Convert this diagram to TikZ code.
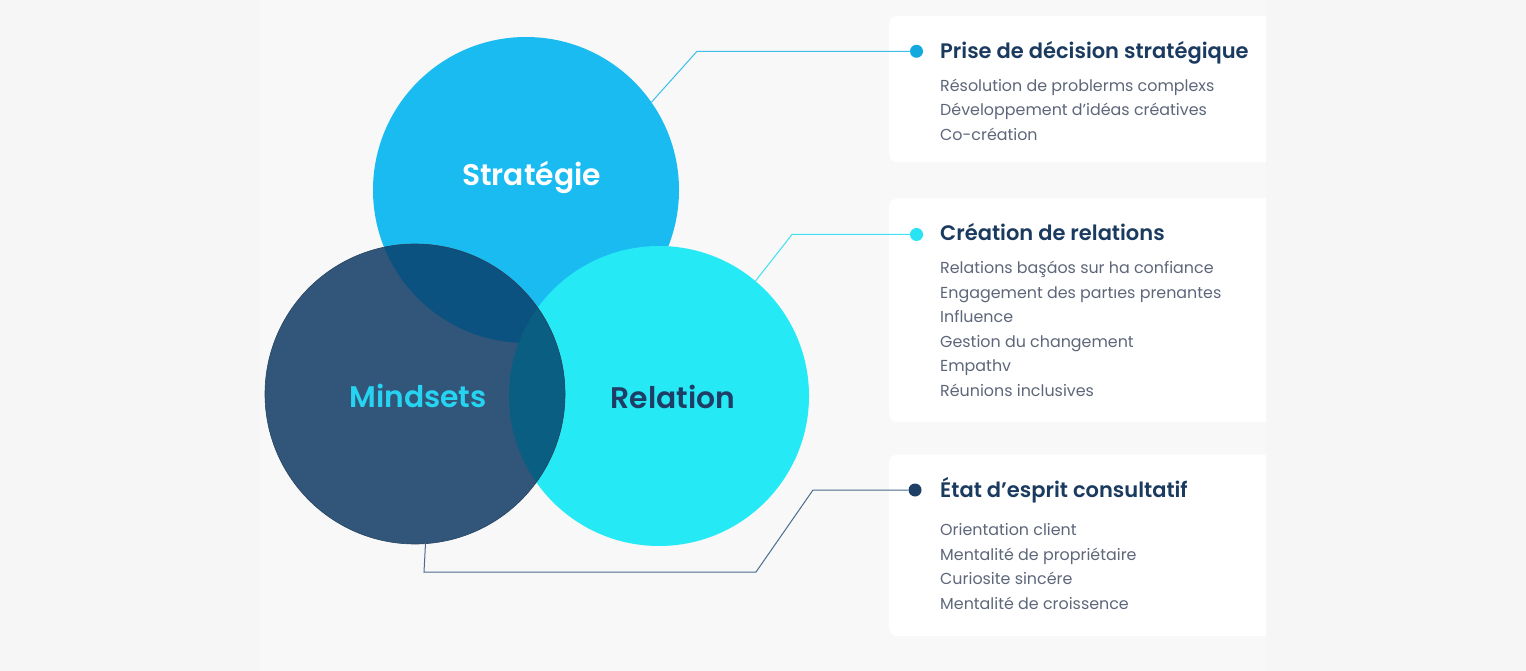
\documentclass[tikz,border=0pt]{standalone}
\usepackage{fontspec}
\setmainfont{Poppins}
\newfontfamily\psemi{Poppins}[UprightFont=* SemiBold, BoldFont=* SemiBold]
\definecolor{bgc}{HTML}{F6F6F6}
\definecolor{panel}{HTML}{F8F8F8}
\definecolor{strat}{HTML}{1ABBF1}
\definecolor{rel}{HTML}{25E9F5}
\definecolor{mind}{HTML}{31567A}
\definecolor{msc}{HTML}{0B5281}
\definecolor{mrc}{HTML}{0A5E82}
\definecolor{titlec}{HTML}{1B3A5F}
\definecolor{itemc}{HTML}{5E6679}
\definecolor{mindtxt}{HTML}{26D3F0}
\definecolor{reltxt}{HTML}{1F3E66}
\definecolor{dotA}{HTML}{12A9DF}
\definecolor{dotB}{HTML}{27E3F3}
\definecolor{dotC}{HTML}{1E3F66}
\definecolor{lineA}{HTML}{3DBFEB}
\definecolor{lineB}{HTML}{3FE0F0}
\definecolor{lineC}{HTML}{4B6B8F}
\tikzset{
  bigcirc/.style={circle, inner sep=0pt, minimum size=#1},
  dotn/.style={circle, inner sep=0pt, minimum size=13pt},
  conn/.style={line width=1pt},
  cardbox/.style={fill=white, rounded corners=8pt, inner sep=0pt, anchor=north west},
  titlet/.style={anchor=base west, inner sep=0pt, text=titlec, font=\psemi\fontsize{21}{24}\selectfont},
  itemt/.style={anchor=base west, inner sep=0pt, text=itemc, font=\fontsize{15.9}{19}\selectfont},
  circlbl/.style={anchor=base, inner sep=0pt, font=\psemi\fontsize{29.8}{33}\selectfont}
}
\begin{document}
\begin{tikzpicture}[x=1pt,y=-1pt]
\useasboundingbox (0,0) rectangle (1526,671);
\fill[bgc] (0,0) rectangle (1526,671);
\fill[panel] (260,0) rectangle (1266,671);

% circles
\node[bigcirc=306pt, fill=strat] (strat) at (526,190) {};
\node[bigcirc=300pt, fill=rel] (rel) at (659,396) {};
\node[bigcirc=300pt, fill=mind] (mind) at (415,394) {};
\begin{scope}
  \clip (415,394) circle[radius=150pt];
  \fill[msc] (526,190) circle[radius=153pt];
  \fill[mrc] (659,396) circle[radius=150pt];
\end{scope}
\draw[mind!80!black, line width=0.6pt] (415,394) circle[radius=150pt];

\node[circlbl, text=white] (lblS) at (531.5,185.5) {Stratégie};
\node[circlbl, text=mindtxt] (lblM) at (418,407) {Mindsets};
\node[circlbl, text=reltxt] (lblR) at (673,408.5) {Relation};

% cards
\begin{scope}
  \clip (0,0) rectangle (1266,671);
  \node[cardbox, minimum width=400pt, minimum height=146pt] (card1) at (889,16) {};
  \node[cardbox, minimum width=400pt, minimum height=223.5pt] (card2) at (889,198.3) {};
  \node[cardbox, minimum width=400pt, minimum height=181.5pt] (card3) at (889,454.3) {};
\end{scope}

% connectors
\coordinate (c1) at (697,51.3);
\coordinate (c2) at (792,234.5);
\coordinate (c3a) at (424,572);
\coordinate (c3b) at (756,572);
\coordinate (c3c) at (813,490);
\node[dotn, fill=dotA] (d1) at (916.5,51.3) {};
\node[dotn, fill=dotB] (d2) at (916.5,234.5) {};
\node[dotn, fill=dotC] (d3) at (915,490) {};
\draw[conn, lineA] (strat.35) -- (c1) -- (d1);
\draw[conn, lineB] (rel.50) -- (c2) -- (d2);
\draw[conn, lineC] (mind.-86.6) -- (c3a) -- (c3b) -- (c3c) -- (d3);

% card 1
\node[titlet] (t1) at (940,58.3) {Prise de décision stratégique};
\node[itemt] (i11) at (940,91.7) {Résolution de problerms complexs};
\node[itemt] (i12) at (940,116) {Développement d’idéas créatives};
\node[itemt] (i13) at (940,140.3) {Co-création};

% card 2
\node[titlet] (t2) at (940,240.5) {Création de relations};
\node[itemt] (i21) at (940,273.5) {Relations başáos sur ha confiance};
\node[itemt] (i22) at (940,298) {Engagement des partıes prenantes};
\node[itemt] (i23) at (940,322.5) {Influence};
\node[itemt] (i24) at (940,347) {Gestion du changement};
\node[itemt] (i25) at (940,371.5) {Empathv};
\node[itemt] (i26) at (940,396) {Réunions inclusives};

% card 3
\node[titlet] (t3) at (940,497.5) {État d’esprit consultatif};
\node[itemt] (i31) at (940,535.7) {Orientation client};
\node[itemt] (i32) at (940,560) {Mentalité de propriétaire};
\node[itemt] (i33) at (940,584.3) {Curiosite sincére};
\node[itemt] (i34) at (940,609) {Mentalité de croissence};
\end{tikzpicture}
\end{document}
